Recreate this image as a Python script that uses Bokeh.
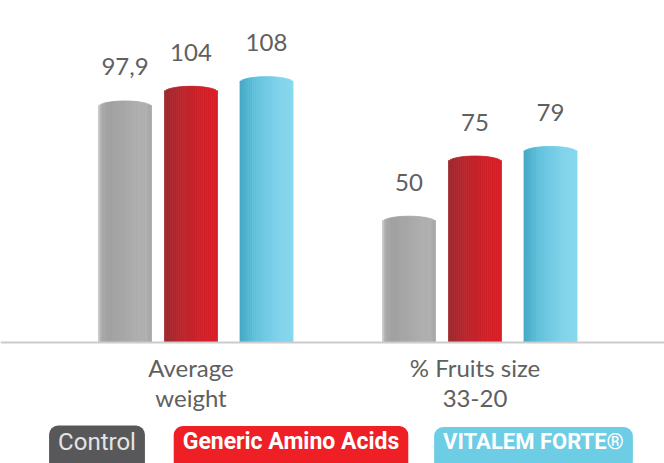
import numpy as np
from bokeh.plotting import figure
from bokeh.models import ColumnDataSource, Range1d, Span, Label
from bokeh.core.properties import value
from bokeh.embed import file_html
from bokeh.resources import INLINE

# ---------------- data ----------------
groups = ["Average\nweight", "% Fruits size\n33-20"]
series = ["Control", "Generic Amino Acids", "VITALEM FORTE®"]
control = [97.9, 50]
generic = [104, 75]
vitalem = [108, 79]
all_values = [control, generic, vitalem]

# ---------------- style / layout ----------------
W, H = 664, 463
px_per_group = 284.0
px_per_unit = 2.406
offsets = [-66 / px_per_group, 0.0, 75.5 / px_per_group]
bar_w = 53 / px_per_group
cap_units = 6 / px_per_unit

stops = [
    [(0.0, "#cfcfcf"), (0.07, "#a9a9a9"), (0.2, "#a0a0a0"), (0.55, "#a9a9a9"), (0.9, "#b1b1b1"), (1.0, "#a6a6a6")],
    [(0.0, "#9b2a30"), (0.3, "#b9252d"), (0.7, "#cf2129"), (1.0, "#da1f26")],
    [(0.0, "#44a8c5"), (0.3, "#62c2dd"), (0.7, "#7dd2ea"), (1.0, "#87d8ee")],
]
legend_fill = ["#58585a", "#ee2026", "#6dcde4"]
legend_text = ["#e4e4e4", "#ffffff", "#ffffff"]
legend_x = [96.5, 290.5, 533]
legend_size = ["24px", "23px", "22px"]


def hex2rgb(h):
    h = h.lstrip("#")
    return np.array([int(h[i:i + 2], 16) for i in (0, 2, 4)], dtype=float)


def interp_color(st, t):
    for (t0, c0), (t1, c1) in zip(st[:-1], st[1:]):
        if t0 <= t <= t1:
            f = 0 if t1 == t0 else (t - t0) / (t1 - t0)
            c = hex2rgb(c0) * (1 - f) + hex2rgb(c1) * f
            return "#%02x%02x%02x" % tuple(int(round(x)) for x in c)
    return st[-1][1]


x_start = -190.5 / px_per_group
y_start = -(H - 342) / px_per_unit

p = figure(
    width=W, height=H,
    x_range=Range1d(x_start, x_start + W / px_per_group),
    y_range=Range1d(y_start, y_start + H / px_per_unit),
    x_axis_location=None, y_axis_location=None,
    toolbar_location=None, output_backend="svg",
    min_border=0,
)
p.outline_line_color = None
p.grid.visible = False
p.background_fill_color = "white"
p.border_fill_color = "white"

# bars as thin vertical stripes to give cylinder shading
N = 26
data = dict(left=[], right=[], top=[], bottom=[], color=[])
for s_i, vals in enumerate(all_values):
    for g_i, v in enumerate(vals):
        xc = g_i + offsets[s_i]
        edges = np.linspace(xc - bar_w / 2, xc + bar_w / 2, N + 1)
        for k in range(N):
            t = (k + 0.5) / N
            u = t * 2 - 1
            data["left"].append(edges[k])
            data["right"].append(edges[k + 1])
            data["bottom"].append(0)
            data["top"].append(v + cap_units * np.sqrt(max(0.0, 1 - u * u)))
            data["color"].append(interp_color(stops[s_i], t))
p.quad(left="left", right="right", top="top", bottom="bottom",
       fill_color="color", line_color="color", line_width=0.8,
       source=ColumnDataSource(data))

# baseline
p.add_layout(Span(location=0, dimension="width", line_color="#cccccc", line_width=2))

# value labels
lx, ly, lt = [], [], []
for s_i, vals in enumerate(all_values):
    for g_i, v in enumerate(vals):
        lx.append(g_i + offsets[s_i])
        ly.append(v)
        lt.append(("%g" % v).replace(".", ","))
p.text(x=lx, y=ly, text=lt, y_offset=-40, text_align="center",
       text_baseline="alphabetic", text_font=value("Lato"),
       text_font_size="24px", text_color="#606060")

# category labels
p.text(x=list(range(len(groups))), y=[0] * len(groups), text=groups,
       y_offset=10, text_align="center", text_baseline="top",
       text_font=value("Lato"), text_font_size="24px",
       text_line_height=1.05, text_color="#606060")

# legend pills
for i, name in enumerate(series):
    p.add_layout(Label(
        x=legend_x[i], y=15, x_units="screen", y_units="screen",
        text=name, text_align="center", text_baseline="middle",
        text_font="Roboto", text_font_size=legend_size[i],
        text_font_style="normal" if i == 0 else "bold",
        text_color=legend_text[i],
        background_fill_color=legend_fill[i],
        border_radius=9, padding=dict(left=9, right=9, top=2, bottom=16),
    ))

open("out.html", "w").write(file_html(p, INLINE))
